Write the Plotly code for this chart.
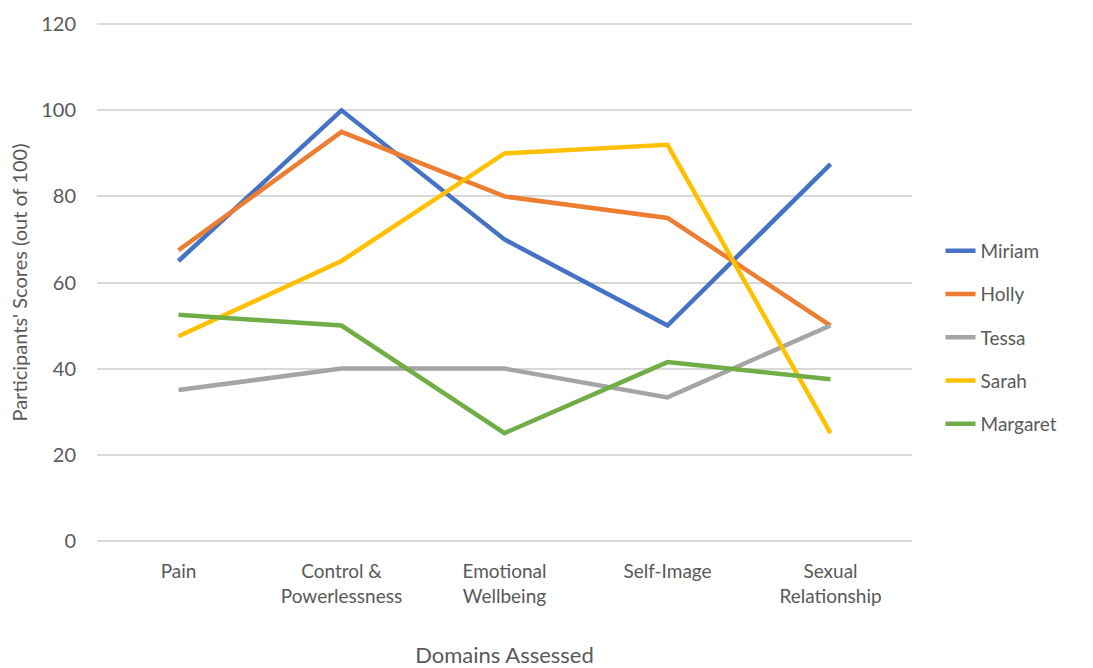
import plotly.graph_objects as go

domains = ["Pain", "Control &<br>Powerlessness", "Emotional<br>Wellbeing", "Self-Image", "Sexual<br>Relationship"]

miriam = [65, 100, 70, 50, 87.5]
holly = [67.5, 95, 80, 75, 50]
tessa = [35, 40, 40, 33.3, 50]
sarah = [47.5, 65, 90, 92, 25]
margaret = [52.5, 50, 25, 41.5, 37.5]

series = [
    ("Miriam", miriam, "#4472C4"),
    ("Holly", holly, "#ED7D31"),
    ("Tessa", tessa, "#A5A5A5"),
    ("Sarah", sarah, "#FFC000"),
    ("Margaret", margaret, "#70AD47"),
]

y_ticks = [0, 20, 40, 60, 80, 100, 120]

font_family = "Lato, 'Open Sans', sans-serif"
text_color = "#595959"

fig = go.Figure()
for name, vals, color in series:
    fig.add_trace(go.Scatter(
        x=list(range(len(domains))), y=vals, name=name, mode="lines",
        legendgroup=name,
        line=dict(color=color, width=4.5),
    ))

fig.update_layout(
    width=1093, height=668,
    margin=dict(l=97, r=181, t=23, b=126),
    paper_bgcolor="white", plot_bgcolor="white",
    font=dict(family=font_family, color=text_color, size=18),
    showlegend=True,
    legend=dict(x=1.035, y=0.394, xanchor="left", yanchor="middle",
                font=dict(size=19, color=text_color), tracegroupgap=15.5,
                bgcolor="rgba(0,0,0,0)"),
    xaxis=dict(
        tickmode="array", tickvals=list(range(len(domains))), ticktext=domains,
        range=[-0.5, len(domains) - 0.5], showgrid=False, zeroline=False,
        showline=False, ticks="", tickfont=dict(size=19, color=text_color),
        ticklabelstandoff=16, automargin=False,
        title=dict(text="Domains Assessed", font=dict(size=22, color=text_color), standoff=45),
    ),
    yaxis=dict(
        range=[-0.3, 120.3], tickvals=y_ticks, showgrid=True, gridcolor="#D9D9D9",
        gridwidth=1.5, zeroline=False, showline=False, ticks="",
        tickfont=dict(size=20, color=text_color), ticklabelstandoff=20,
        automargin=False,
        title=dict(text="Participants' Scores (out of 100)", font=dict(size=20, color=text_color), standoff=8),
    ),
)

fig.write_html("out.html")
